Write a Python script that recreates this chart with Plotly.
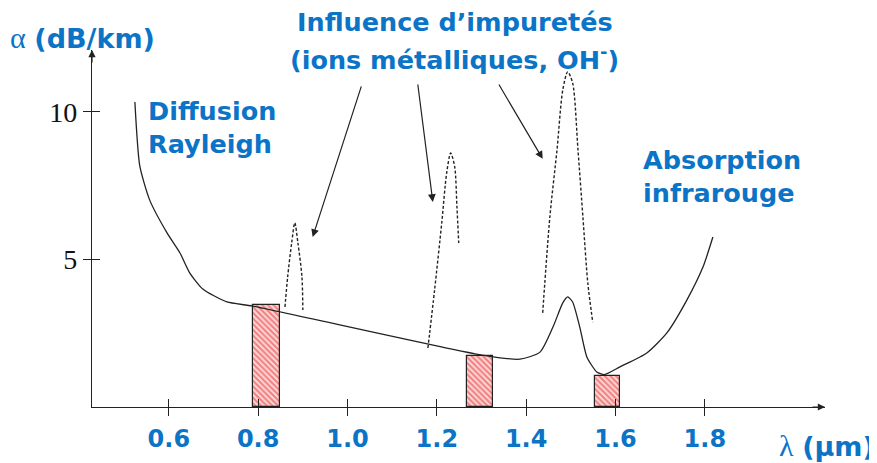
import plotly.graph_objects as go

# ---- data (wavelength in µm, attenuation in dB/km) ----
curve_x = [0.524, 0.535, 0.557, 0.596, 0.625, 0.647, 0.676, 0.730, 0.788,
           1.301, 1.386, 1.431, 1.460, 1.482, 1.493, 1.504, 1.520, 1.536,
           1.558, 1.575, 1.610, 1.670, 1.715, 1.760, 1.796, 1.818]
curve_y = [10.34, 8.17, 7.02, 5.90, 5.22, 4.54, 4.00, 3.56, 3.42,
           1.76, 1.62, 1.86, 2.71, 3.53, 3.73, 3.56, 2.71, 1.69,
           1.19, 1.10, 1.36, 1.83, 2.51, 3.63, 4.75, 5.76]

peak1_x = [0.860, 0.866, 0.875, 0.882, 0.889, 0.898, 0.900]
peak1_y = [3.39, 4.41, 5.56, 6.24, 5.56, 4.41, 3.29]
peak2_x = [1.180, 1.195, 1.211, 1.222, 1.231, 1.240, 1.245, 1.249]
peak2_y = [2.00, 3.97, 6.24, 7.93, 8.61, 8.14, 6.78, 5.56]
peak3_x = [1.437, 1.453, 1.469, 1.482, 1.493, 1.504, 1.516, 1.527, 1.538, 1.549]
peak3_y = [3.19, 6.44, 8.71, 10.75, 11.36, 10.98, 8.71, 6.44, 4.20, 2.88]

window_x = [0.818, 1.296, 1.582]
window_w = [0.060, 0.058, 0.056]
window_h = [3.46, 1.73, 1.05]

x_ticks = [0.6, 0.8, 1.0, 1.2, 1.4, 1.6, 1.8]
x_ticktext = ["<b>0.6</b>", "<b>0.8</b>", "<b>1.0</b>", "<b>1.2</b>",
              "<b>1.4</b>", "<b>1.6</b>", "<b>1.8</b>"]
y_ticks = [5, 10]
y_ticktext = ["5", "10"]

X_RANGE = [0.428, 2.069]
Y_RANGE = [0, 12.1]
BLUE = "#0b74c6"
BFONT = dict(family="DejaVu Sans", size=25.5, color=BLUE)
AFONT = dict(family="DejaVu Sans", size=27, color=BLUE)

fig = go.Figure()

fig.add_trace(go.Bar(
    x=window_x, y=window_h, width=window_w,
    marker=dict(color="#ffd0d0", line=dict(color="#222", width=1.2),
                pattern=dict(shape="\\", fgcolor="#e02828", bgcolor="#ffd6d6",
                             size=4, solidity=0.5)),
    hoverinfo="skip", showlegend=False))

dash_style = dict(color="#222", width=1.4, dash="3px,2px")
for px_, py_ in [(peak1_x, peak1_y), (peak2_x, peak2_y), (peak3_x, peak3_y)]:
    fig.add_trace(go.Scatter(x=px_, y=py_, mode="lines",
                             line=dict(shape="spline", smoothing=0.8, **dash_style),
                             showlegend=False, cliponaxis=False))

fig.add_trace(go.Scatter(x=curve_x, y=curve_y, mode="lines",
                         line=dict(color="#222", width=1.3, shape="spline", smoothing=0.6),
                         showlegend=False, cliponaxis=False))

# invisible trace for overlay axes (cross ticks)
fig.add_trace(go.Scatter(x=[X_RANGE[0]], y=[0], xaxis="x2", yaxis="y2",
                         mode="markers", marker=dict(opacity=0), showlegend=False,
                         hoverinfo="skip"))

# page body has an 8px margin: shrink the figure accordingly
fig.update_layout(
    width=869, height=455,
    margin=dict(l=84, r=52, t=42, b=56, autoexpand=False),
    paper_bgcolor="white", plot_bgcolor="white",
    bargap=0,
    xaxis=dict(range=X_RANGE, showgrid=False, zeroline=False, showline=True,
               linecolor="#222", linewidth=1.2, tickvals=x_ticks, ticktext=x_ticktext,
               ticks="outside", ticklen=8, tickcolor="#222", tickwidth=1.2,
               tickfont=dict(family="DejaVu Sans", size=24, color=BLUE),
               ticklabelstandoff=2, automargin=False),
    yaxis=dict(range=Y_RANGE, showgrid=False, zeroline=False, showline=True,
               linecolor="#222", linewidth=1.2, tickvals=y_ticks, ticktext=y_ticktext,
               ticks="outside", ticklen=8, tickcolor="#222", tickwidth=1.2,
               tickfont=dict(family="Liberation Serif", size=28, color="#111"),
               automargin=False),
    xaxis2=dict(range=X_RANGE, overlaying="x", anchor="y2", showgrid=False,
                zeroline=False, showline=False, tickvals=x_ticks, ticks="inside",
                ticklen=8, tickcolor="#222", tickwidth=1.2, showticklabels=False,
                side="bottom", automargin=False),
    yaxis2=dict(range=Y_RANGE, overlaying="y", anchor="x2", showgrid=False,
                zeroline=False, showline=False, tickvals=y_ticks, ticks="inside",
                ticklen=8, tickcolor="#222", tickwidth=1.2, showticklabels=False,
                side="left", automargin=False),
)

ann = []
# axis arrowheads
ann.append(dict(x=X_RANGE[1], y=0, xref="x", yref="y", ax=-14, ay=0, text="",
                showarrow=True, arrowhead=2, arrowsize=1.2, arrowwidth=1.2,
                arrowcolor="#222"))
ann.append(dict(x=X_RANGE[0], y=Y_RANGE[1], xref="x", yref="y", ax=0, ay=14, text="",
                showarrow=True, arrowhead=2, arrowsize=1.2, arrowwidth=1.2,
                arrowcolor="#222"))
# impurity arrows
for hx, hy, tx, ty in [(0.922, 5.76, 1.032, 10.92), (1.191, 6.95, 1.157, 10.98),
                       (1.437, 8.41, 1.337, 10.98)]:
    ann.append(dict(x=hx, y=hy, ax=tx, ay=ty, xref="x", yref="y", axref="x", ayref="y",
                    text="", showarrow=True, arrowhead=2, arrowsize=1.3,
                    arrowwidth=1.2, arrowcolor="#222"))
# labels
ann.append(dict(x=-0.114, y=1.034, xref="paper", yref="paper", xanchor="left",
                yanchor="middle", showarrow=False,
                text="<span style='font-family:Liberation Serif;font-weight:normal;font-size:30px'>α</span> <b>(dB/km)</b>",
                font=AFONT))
ann.append(dict(x=0.934, y=-0.108, xref="paper", yref="paper", xanchor="left",
                yanchor="middle", showarrow=False,
                text="<span style='font-family:Liberation Serif;font-weight:normal;font-size:30px'>λ</span> <b>(µm)</b>",
                font=AFONT))
ann.append(dict(x=0.550, y=10.62, xref="x", yref="y", xanchor="left", yanchor="top",
                align="left", showarrow=False,
                text="<b>Diffusion<br>Rayleigh</b>", font=BFONT))
ann.append(dict(x=1.658, y=8.95, xref="x", yref="y", xanchor="left", yanchor="top",
                align="left", showarrow=False,
                text="<b>Absorption<br>infrarouge</b>", font=BFONT))
ann.append(dict(x=1.240, y=1.078, xref="x", yref="paper", xanchor="center",
                yanchor="middle", showarrow=False,
                text="<b>Influence d’impuretés</b>", font=BFONT))
ann.append(dict(x=1.240, y=0.978, xref="x", yref="paper", xanchor="center",
                yanchor="middle", showarrow=False,
                text="<b>(ions métalliques, OH<sup>-</sup>)</b>", font=BFONT))
fig.update_layout(annotations=ann)

fig.write_html("out.html")
